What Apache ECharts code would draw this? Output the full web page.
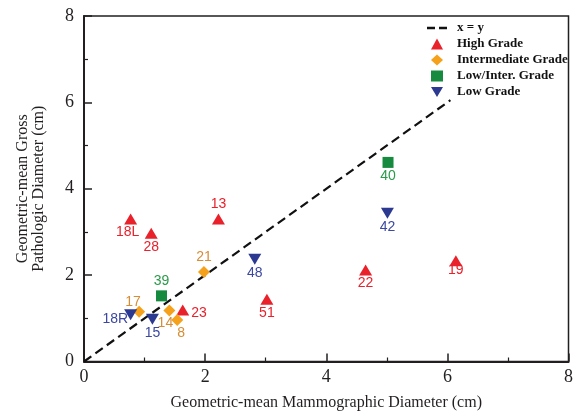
<!DOCTYPE html>
<html><head><meta charset="utf-8">
<script src="https://cdn.jsdelivr.net/npm/echarts@6/dist/echarts.min.js"></script>
<style>html,body{margin:0;padding:0;background:#fff}#c{width:576px;height:416px}</style>
</head><body><div id="c"></div>
<script>
const xTicks = [0, 2, 4, 6, 8];
const yTicks = [0, 2, 4, 6, 8];
// x = y reference line, drawn up to where it meets the legend box
const identityLine = [[0, 0], [6.05, 6.05]];

const highIds = ['18L', '28', '13', '23', '51', '22', '19'];
const highX = [0.77, 1.11, 2.22, 1.63, 3.02, 4.65, 6.14];
const highY = [3.30, 2.97, 3.30, 1.19, 1.44, 2.12, 2.33];

const interIds = ['17', '21', '14', '8'];
const interX = [0.91, 1.98, 1.41, 1.54];
const interY = [1.15, 2.07, 1.18, 0.96];

const lowInterIds = ['39', '40'];
const lowInterX = [1.28, 5.02];
const lowInterY = [1.52, 4.61];

const lowIds = ['18R', '15', '48', '42'];
const lowX = [0.77, 1.13, 2.82, 5.01];
const lowY = [1.08, 0.98, 2.37, 3.43];

// label placement (style only)
const labelPlace = {
  '18L': {position: 'bottom', distance: 1, offset: [-3, 0]},
  '28': {position: 'bottom', distance: 1},
  '13': {position: 'top', distance: 2},
  '23': {position: 'right', distance: 2, offset: [0, 3]},
  '51': {position: 'bottom', distance: 1},
  '22': {position: 'bottom', distance: 1},
  '19': {position: 'bottom', distance: -3},
  '17': {position: 'top', distance: -1, offset: [-6, 2]},
  '21': {position: 'top', distance: 2},
  '14': {position: 'bottom', distance: 0, offset: [-4, 0]},
  '8': {position: 'bottom', distance: 0, offset: [4, 0]},
  '39': {position: 'top', distance: 2},
  '40': {position: 'bottom', distance: 1},
  '18R': {position: 'left', distance: 0, offset: [4, 4]},
  '15': {position: 'bottom', distance: 1},
  '48': {position: 'bottom', distance: 1},
  '42': {position: 'bottom', distance: 1}
};

const serif = "'Liberation Serif','Times New Roman',serif";
const sans = "'Liberation Sans',Arial,sans-serif";

function pts(ids, xs, ys, labelColor) {
  return ids.map((id, i) => {
    const p = labelPlace[id] || {};
    return {
      name: id,
      value: [xs[i], ys[i]],
      label: Object.assign({show: true, formatter: id, color: labelColor, fontFamily: sans, fontSize: 14}, p)
    };
  });
}

const downTri = 'path://M0,0 L12,0 L6,10 Z';
const dashIcon = 'path://M0,0 L8,0 L8,2.4 L0,2.4 Z M12,0 L20,0 L20,2.4 L12,2.4 Z';
const legendText = {fontFamily: serif, fontSize: 13, fontWeight: 'bold', color: '#111', lineHeight: 14};

const chart = echarts.init(document.getElementById('c'), null, {renderer: 'canvas'});
chart.setOption({
  animation: false,
  backgroundColor: '#fff',
  grid: {left: 84, right: 2, top: 16, bottom: 54.5, show: true, borderColor: '#231f20', borderWidth: 1.5, backgroundColor: 'transparent'},
  legend: [
    {
      left: 427, top: 21, orient: 'vertical', padding: 0,
      itemWidth: 20, itemHeight: 14, symbolKeepAspect: true,
      textStyle: Object.assign({padding: [0, 0, 0, 5]}, legendText),
      data: [{name: 'x = y', icon: dashIcon, itemStyle: {color: '#111'}}]
    },
    {
      left: 431, top: 37, orient: 'vertical', padding: 0,
      itemWidth: 12, itemHeight: 11, itemGap: 2,
      textStyle: Object.assign({padding: [0, 0, 0, 9]}, legendText),
      data: ['High Grade', 'Intermediate Grade', 'Low/Inter. Grade', 'Low Grade']
    }
  ],
  xAxis: {
    type: 'value', min: xTicks[0], max: xTicks[xTicks.length - 1], interval: 2,
    name: 'Geometric-mean Mammographic Diameter (cm)', nameLocation: 'middle', nameGap: 33,
    nameTextStyle: {fontFamily: serif, fontSize: 16, color: '#231f20'},
    axisLine: {lineStyle: {color: '#231f20', width: 2}},
    axisTick: {inside: true, length: 8, lineStyle: {color: '#231f20', width: 1.5}},
    minorTick: {show: true, splitNumber: 2, length: 4, lineStyle: {color: '#231f20', width: 1.2}},
    splitLine: {show: false},
    axisLabel: {fontFamily: serif, fontSize: 18, color: '#231f20', margin: 7}
  },
  yAxis: {
    type: 'value', min: yTicks[0], max: yTicks[yTicks.length - 1], interval: 2,
    name: 'Geometric-mean Gross\nPathologic Diameter (cm)', nameLocation: 'middle', nameGap: 37,
    nameTextStyle: {fontFamily: serif, fontSize: 16, color: '#231f20', lineHeight: 16},
    axisLine: {lineStyle: {color: '#231f20', width: 2}},
    axisTick: {inside: true, length: 8, lineStyle: {color: '#231f20', width: 1.5}},
    minorTick: {show: true, splitNumber: 2, length: 4, lineStyle: {color: '#231f20', width: 1.2}},
    splitLine: {show: false},
    axisLabel: {fontFamily: serif, fontSize: 18, color: '#231f20', margin: 10}
  },
  series: [
    {name: 'x = y', type: 'line', data: identityLine, symbol: 'none', z: 1,
     lineStyle: {color: '#111', width: 2.2, type: [9, 5]}, itemStyle: {color: '#111'}},
    {name: 'High Grade', type: 'scatter', symbol: 'triangle', symbolSize: [13, 11],
     itemStyle: {color: '#e8212b', opacity: 1}, data: pts(highIds, highX, highY, '#e8212b')},
    {name: 'Intermediate Grade', type: 'scatter', symbol: 'diamond', symbolSize: 12,
     itemStyle: {color: '#f5a11c', opacity: 1}, data: pts(interIds, interX, interY, '#d68d35')},
    {name: 'Low/Inter. Grade', type: 'scatter', symbol: 'rect', symbolSize: 11,
     itemStyle: {color: '#168b3f', opacity: 1}, data: pts(lowInterIds, lowInterX, lowInterY, '#2a9a4a')},
    {name: 'Low Grade', type: 'scatter', symbol: downTri, symbolSize: [13, 11],
     itemStyle: {color: '#2b3990', opacity: 1}, data: pts(lowIds, lowX, lowY, '#3b47a0')}
  ]
});
</script>
</body></html>
